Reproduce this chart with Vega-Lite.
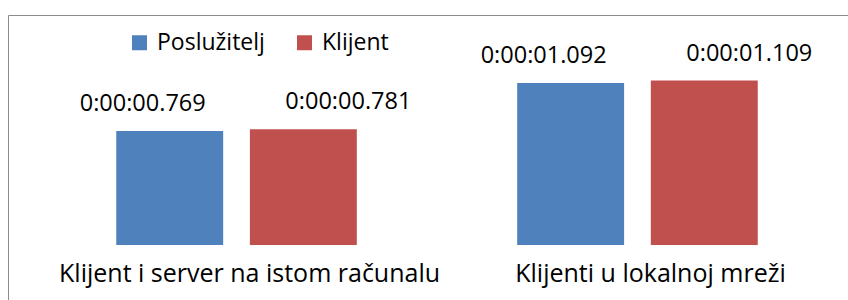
{
  "$schema": "https://vega.github.io/schema/vega-lite/v6.json",
  "width": 858,
  "height": 295,
  "autosize": {"type": "none"},
  "padding": {"left": 8, "top": 15, "right": -18, "bottom": -10},
  "config": {
    "view": {"stroke": "#8c8c8c", "strokeWidth": 1},
    "font": "Open Sans"
  },
  "data": {
    "values": [
      {"scenario": "Klijent i server na istom računalu", "side": "Poslužitelj", "seconds": 0.769, "label": "0:00:00.769"},
      {"scenario": "Klijent i server na istom računalu", "side": "Klijent", "seconds": 0.781, "label": "0:00:00.781"},
      {"scenario": "Klijenti u lokalnoj mreži", "side": "Poslužitelj", "seconds": 1.092, "label": "0:00:01.092"},
      {"scenario": "Klijenti u lokalnoj mreži", "side": "Klijent", "seconds": 1.109, "label": "0:00:01.109"}
    ]
  },
  "encoding": {
    "x": {
      "field": "scenario", "type": "nominal", "sort": null,
      "scale": {"paddingInner": 0.4, "paddingOuter": 0.27},
      "axis": {"title": null, "orient": "bottom", "offset": -49, "domain": false, "ticks": false, "labelPadding": 0, "labelOffset": 13, "labelFontSize": 25, "labelColor": "#000000", "labelAngle": 0, "labelBaseline": "top", "labelLimit": 0, "labelOverlap": false, "labelFont": "Open Sans"}
    },
    "xOffset": {"field": "side", "type": "nominal", "sort": ["Poslužitelj", "Klijent"], "scale": {"paddingInner": 0.2, "paddingOuter": 0}},
    "y": {"field": "seconds", "type": "quantitative", "scale": {"domain": [-0.438, 1.551], "nice": false, "zero": false}, "axis": null}
  },
  "layer": [
    {
      "mark": {"type": "bar"},
      "encoding": {
        "y2": {"datum": 0},
        "color": {
          "field": "side", "type": "nominal",
          "scale": {"domain": ["Poslužitelj", "Klijent"], "range": ["#4F81BD", "#C0504D"]},
          "legend": {"title": null, "orient": "none", "legendX": 120, "legendY": 16, "direction": "horizontal", "symbolType": "square", "symbolSize": 225, "symbolStrokeWidth": 0, "symbolOpacity": 1, "labelFontSize": 23, "labelFont": "Open Sans", "labelColor": "#000000", "labelOffset": 6, "columnPadding": 28, "padding": 0}
        }
      }
    },
    {
      "transform": [{"filter": "datum.side === 'Poslužitelj'"}],
      "mark": {"type": "text", "dx": -27, "dy": -20, "baseline": "alphabetic", "fontSize": 23.5, "color": "#000000"},
      "encoding": {"text": {"field": "label"}}
    },
    {
      "transform": [{"filter": "datum.side === 'Klijent'"}],
      "mark": {"type": "text", "dx": 45, "dy": -20, "baseline": "alphabetic", "fontSize": 23.5, "color": "#000000"},
      "encoding": {"text": {"field": "label"}}
    }
  ]
}
